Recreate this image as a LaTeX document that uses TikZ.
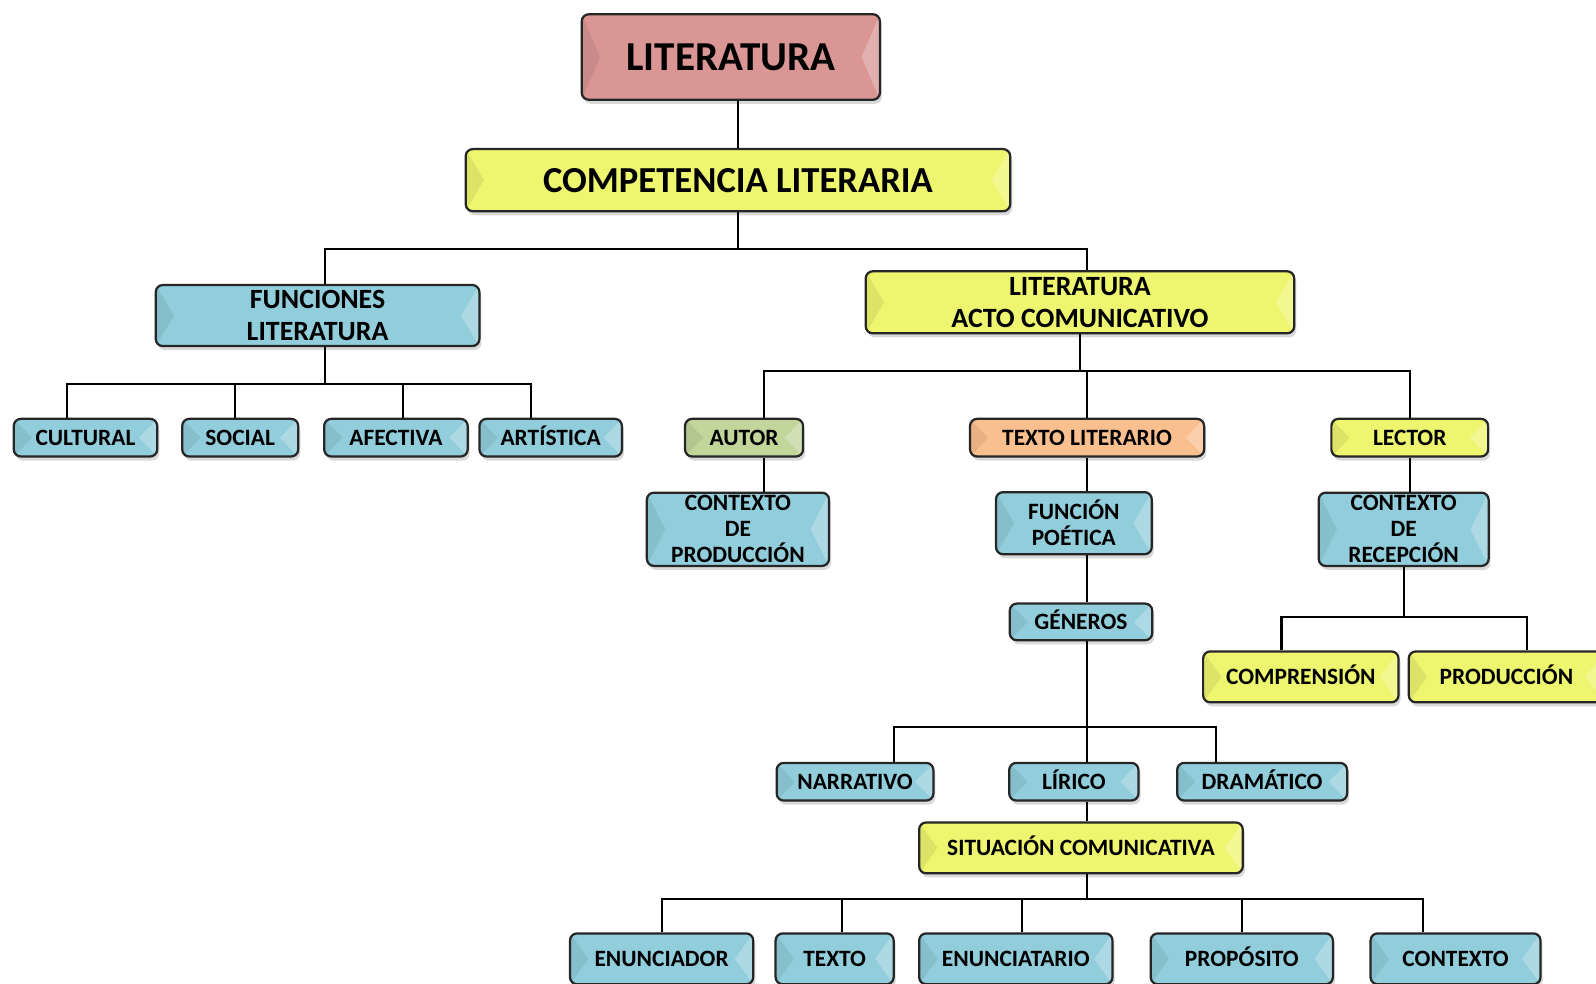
\documentclass[tikz,border=0pt]{standalone}
\usepackage{fontspec}
\setmainfont{Carlito}
\usetikzlibrary{shadows,calc}
\definecolor{rosa}{RGB}{217,150,148}
\definecolor{celeste}{RGB}{146,205,220}
\definecolor{limon}{RGB}{238,245,110}
\definecolor{oliva}{RGB}{194,214,155}
\definecolor{naranja}{RGB}{250,191,143}

\begin{document}
\begin{tikzpicture}[x=1pt,y=-1pt,line width=2pt]
    % `caja' is the bevelled box, `azul' and `amarillo' only set its fill.
    % `txtgr' is used for the two line labels of the second row,
    % `multi' for every label of more than one line.
    \tikzstyle{bevel} = [path picture={
\fill[sharp corners,black,opacity=.07] (path picture bounding box.north west) -- ([xshift=18pt]path picture bounding box.west) -- (path picture bounding box.south west) -- cycle;
\fill[sharp corners,white,opacity=.25] (path picture bounding box.north east) -- ([xshift=-18pt]path picture bounding box.east) -- (path picture bounding box.south east) -- cycle;
}]
    \tikzstyle{caja} = [draw=black!85,line width=2.2pt,rounded corners=7pt,inner sep=0pt,align=center,
                        drop shadow={shadow xshift=2pt,shadow yshift=-4pt,opacity=.3},bevel,
                        text height=19pt,text depth=4.2pt,
                        font=\bfseries\fontsize{23}{25.5}\selectfont]
    \tikzstyle{multi} = [text height={},text depth={}]
    \tikzstyle{azul} = [caja,fill=celeste]
    \tikzstyle{amarillo} = [caja,fill=limon]
    \tikzstyle{txtgr} = [multi,font=\bfseries\fontsize{27.4}{31}\selectfont]
    %
    \useasboundingbox (0,0) rectangle (1568,966);
    % top
    \node[caja,multi,fill=rosa,minimum width=293pt,minimum height=84pt,font=\bfseries\fontsize{40.4}{44}\selectfont] (lit) at (718,56) {LITERATURA};
    \node[amarillo,multi,minimum width=535pt,minimum height=61pt,font=\bfseries\fontsize{36}{40}\selectfont] (comp) at (725,177) {COMPETENCIA LITERARIA};
    \node[azul,txtgr,minimum width=318pt,minimum height=60pt] (func) at (312,310) {FUNCIONES\\LITERATURA};
    \node[amarillo,txtgr,minimum width=421pt,minimum height=61pt] (acto) at (1061,297) {LITERATURA\\ACTO COMUNICATIVO};
    % funciones
    \node[azul,minimum width=141pt,minimum height=37pt] (cultural) at (84,430) {CULTURAL};
    \node[azul,minimum width=114pt,minimum height=37pt] (social) at (236,430) {SOCIAL};
    \node[azul,minimum width=141pt,minimum height=37pt] (afectiva) at (389,430) {AFECTIVA};
    \node[azul,minimum width=140pt,minimum height=37pt] (artistica) at (541,430) {ARTÍSTICA};
    % acto comunicativo
    \node[caja,fill=oliva,minimum width=116pt,minimum height=37pt] (autor) at (731,430) {AUTOR};
    \node[caja,fill=naranja,minimum width=230pt,minimum height=37pt] (texto) at (1068,430) {TEXTO LITERARIO};
    \node[amarillo,minimum width=154pt,minimum height=37pt] (lector) at (1385,430) {LECTOR};
    \node[azul,multi,minimum width=179pt,minimum height=72pt] (cprod) at (725,520) {CONTEXTO\\DE\\PRODUCCIÓN};
    \node[azul,multi,minimum width=153pt,minimum height=61pt] (fpoet) at (1055,514) {FUNCIÓN\\POÉTICA};
    \node[azul,multi,minimum width=167pt,minimum height=72pt] (crec) at (1379,520) {CONTEXTO\\DE\\RECEPCIÓN};
    \node[azul,minimum width=140pt,minimum height=36pt] (generos) at (1062,611) {GÉNEROS};
    \node[amarillo,minimum width=192pt,minimum height=50pt] (compr) at (1278,665) {COMPRENSIÓN};
    \node[amarillo,minimum width=192pt,minimum height=50pt] (produc) at (1480,665) {PRODUCCIÓN};
    % generos
    \node[azul,minimum width=154pt,minimum height=37pt] (narr) at (840,768) {NARRATIVO};
    \node[azul,minimum width=127pt,minimum height=37pt] (lirico) at (1055,768) {LÍRICO};
    \node[azul,minimum width=167pt,minimum height=37pt] (drama) at (1240,768) {DRAMÁTICO};
    \node[amarillo,minimum width=318pt,minimum height=50pt] (sit) at (1062,833) {SITUACIÓN COMUNICATIVA};
    % situacion comunicativa
    \node[azul,minimum width=180pt,minimum height=50pt] (enun) at (650,942) {ENUNCIADOR};
    \node[azul,minimum width=116pt,minimum height=50pt] (textob) at (820,942) {TEXTO};
    \node[azul,minimum width=190pt,minimum height=50pt] (enunt) at (998,942) {ENUNCIATARIO};
    \node[azul,minimum width=179pt,minimum height=50pt] (prop) at (1220,942) {PROPÓSITO};
    \node[azul,minimum width=167pt,minimum height=50pt] (ctx) at (1430,942) {CONTEXTO};
    %
    % Draw lines.
    \draw (lit.south -| comp.north) -- (comp.north);
    \draw (comp.south) -- ++(0,36) coordinate (b1);
    \draw ([xshift=7pt]func.north) |- (b1) -| ([xshift=7pt]acto.north);
    \draw ([xshift=7pt]func.south) -- ++(0,36) coordinate (b2);
    \draw ([xshift=-18pt]cultural.north) |- (b2) -| ([xshift=-19pt]artistica.north);
    \draw ([xshift=-5pt]social.north) -- ([xshift=-5pt]social.north |- b2);
    \draw ([xshift=7pt]afectiva.north) -- ([xshift=7pt]afectiva.north |- b2);
    \draw (acto.south) -- ++(0,36) coordinate (b3);
    \draw ([xshift=20pt]autor.north) |- (b3) -| (lector.north);
    \draw (texto.north) -- (texto.north |- b3);
    \draw ([xshift=20pt]autor.south) -- ([xshift=20pt]autor.south |- cprod.north);
    \draw (texto.south) -- (texto.south |- fpoet.north);
    \draw (fpoet.south -| texto) -- (generos.north -| texto);
    \draw (lector.south) -- (lector.south |- crec.north);
    \draw (crec.south) -- ++(0,49) coordinate (b4);
    \draw ([xshift=-19pt]compr.north) |- (b4) -| ([xshift=20pt]produc.north);
    \draw (generos.south -| texto) -- ++(0,84) coordinate (b5);
    \draw ([xshift=38pt]narr.north) |- (b5) -| ([xshift=-45pt]drama.north);
    \draw (lirico.north -| texto) -- (b5);
    \draw (lirico.south -| texto) -- (sit.north -| texto);
    \draw (sit.south -| texto) -- ++(0,24) coordinate (b6);
    \draw (enun.north) |- (b6) -| ([xshift=-32pt]ctx.north);
    \draw ([xshift=7pt]textob.north) -- ([xshift=7pt]textob.north |- b6);
    \draw ([xshift=6pt]enunt.north) -- ([xshift=6pt]enunt.north |- b6);
    \draw (prop.north) -- (prop.north |- b6);
\end{tikzpicture}
\end{document}
